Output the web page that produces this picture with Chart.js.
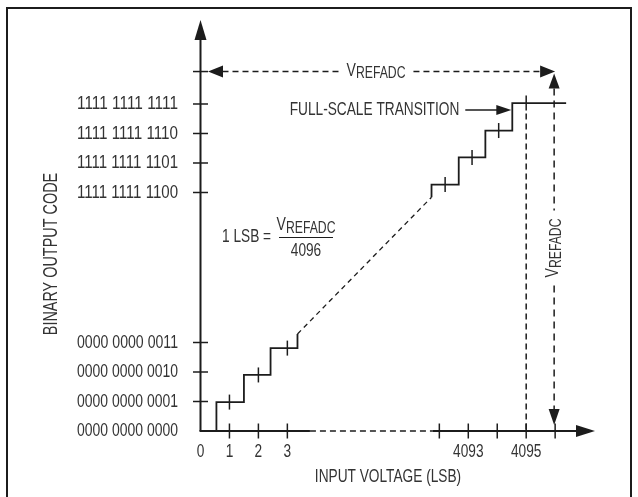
<!DOCTYPE html>
<html>
<head>
<meta charset="utf-8">
<script src="https://cdn.jsdelivr.net/npm/chart.js"></script>
<style>
  html, body { margin: 0; padding: 0; background: #fff; }
  canvas { display: block; }
</style>
</head>
<body>
<canvas id="transfer" width="638" height="497"></canvas>
<script>
// axis ticks
const inputTicks = [0, 1, 2, 3, 4092, 4093, 4094, 4095, 4096];
const inputTickLabels = ['0', '1', '2', '3', '', '4093', '', '4095', ''];
const outputCodes = [0, 1, 2, 3, 4092, 4093, 4094, 4095];
const outputCodeLabels = ['0000 0000 0000', '0000 0000 0001', '0000 0000 0010', '0000 0000 0011',
  '1111 1111 1100', '1111 1111 1101', '1111 1111 1110', '1111 1111 1111'];

// staircase corners (input in LSB, output code)
const lowStepIn = [0.55, 0.55, 1.5, 1.5, 2.42, 2.42, 3.35, 3.35];
const lowStepOut = [0, 0.98, 0.98, 1.9, 1.9, 2.81, 2.81, 3.29];
const highStepIn = [4091.73, 4091.73, 4092.67, 4092.67, 4093.59, 4093.59, 4094.52, 4094.52, 4096.38];
const highStepOut = [4091.84, 4092.27, 4092.27, 4093.19, 4093.19, 4094.1, 4094.1, 4095.03, 4095.03];

// little marks on the code centres
const stepMarkIn = [1, 2, 3, 4092.2, 4093.13, 4094.05, 4095];
const stepMarkOut = [0.98, 1.9, 2.81, 4092.27, 4093.19, 4094.1, 4095.03];

const fullScaleIn = 4095;
const fullScaleTop = 4094.68;
const vrefIn = 4096;
const vrefCode = 4096.1;

// broken axes: the upper codes are shifted down next to the lower ones
const X_GAP = 4083.75, Y_GAP = 4083.915;
const ux = v => v > 1000 ? v - X_GAP : v;
const uy = v => v > 1000 ? v - Y_GAP : v;
const pts = (xs, ys) => xs.map((v, i) => ({ x: ux(v), y: uy(ys[i]) }));

const INK = '#1c1c1c';
const TXT = '#333';
const FONT = '"Liberation Sans", Arial, sans-serif';
const SQ = 0.74; // narrow font look
const FS = 18.5;

// fit: optional width in px the string should take
function text(ctx, s, x, y, size, align, rot, fit) {
  ctx.save();
  ctx.translate(x, y);
  if (rot) ctx.rotate(rot);
  ctx.font = size + 'px ' + FONT;
  const k = fit ? fit / ctx.measureText(s).width : SQ;
  ctx.scale(k, 1);
  ctx.fillStyle = TXT;
  ctx.textAlign = align || 'center';
  ctx.textBaseline = 'middle';
  ctx.fillText(s, 0, 0);
  ctx.restore();
}

// "V" with REFADC subscript, centred on x,y; returns width
function vrefText(ctx, x, y, rot) {
  ctx.save();
  ctx.translate(x, y);
  if (rot) ctx.rotate(rot);
  ctx.scale(SQ, 1);
  ctx.fillStyle = TXT;
  ctx.textBaseline = 'middle';
  ctx.textAlign = 'left';
  ctx.font = '19px ' + FONT;
  const wV = ctx.measureText('V').width;
  ctx.font = '16.5px ' + FONT;
  const wS = ctx.measureText('REFADC').width;
  const start = -(wV + wS) / 2;
  ctx.font = '19px ' + FONT;
  ctx.fillText('V', start, -1);
  ctx.font = '16.5px ' + FONT;
  ctx.fillText('REFADC', start + wV, 2);
  ctx.restore();
  return (wV + wS) * SQ;
}

function line(ctx, x1, y1, x2, y2, w, dash) {
  ctx.save();
  ctx.strokeStyle = INK;
  ctx.lineWidth = w;
  ctx.setLineDash(dash || []);
  ctx.beginPath();
  ctx.moveTo(x1, y1);
  ctx.lineTo(x2, y2);
  ctx.stroke();
  ctx.restore();
}

// filled arrow head, tip at (x,y), pointing along angle a
function head(ctx, x, y, a, len, half) {
  ctx.save();
  ctx.translate(x, y);
  ctx.rotate(a);
  ctx.fillStyle = INK;
  ctx.beginPath();
  ctx.moveTo(0, 0);
  ctx.lineTo(-len, -half);
  ctx.lineTo(-len, half);
  ctx.closePath();
  ctx.fill();
  ctx.restore();
}

const drawing = {
  id: 'drawing',
  beforeDraw(chart) {
    const ctx = chart.ctx;
    ctx.save();
    ctx.fillStyle = '#fff';
    ctx.fillRect(0, 0, chart.width, chart.height);
    ctx.strokeStyle = INK;
    ctx.lineWidth = 2;
    ctx.strokeRect(7, 8, 624, 500);
    ctx.restore();
  },
  afterDatasetsDraw(chart) {
    const ctx = chart.ctx;
    const sx = chart.scales.x, sy = chart.scales.y;
    const px = v => sx.getPixelForValue(ux(v));
    const py = v => sy.getPixelForValue(uy(v));
    const x0 = px(0), y0 = py(0);

    // y axis with arrow
    const yTip = 20;
    line(ctx, x0, y0, x0, yTip + 18, 2);
    head(ctx, x0, yTip, -Math.PI / 2, 20, 6);
    // x axis: solid, broken (dashed), solid, arrow
    const xTip = 595;
    line(ctx, x0 - 1, y0, px(3.78), y0, 2);
    line(ctx, px(3.78), y0, px(4091.78), y0, 1.5, [6, 4]);
    line(ctx, px(4091.78), y0, xTip - 18, y0, 2);
    head(ctx, xTip, y0, 0, 19, 6);

    // ticks across the axes
    inputTicks.forEach((v, i) => {
      if (v > 0) line(ctx, px(v), y0 - 7.5, px(v), y0 + 7.5, 1.5);
      text(ctx, inputTickLabels[i], px(v), 452, FS);
    });
    outputCodes.forEach((c, i) => {
      if (c > 0) line(ctx, x0 - 7.5, py(c), x0 + 7.5, py(c), 1.5);
      text(ctx, outputCodeLabels[i], 178, py(c), FS, 'right', 0, 101);
    });
    line(ctx, x0 - 7.5, py(vrefCode), x0 + 7.5, py(vrefCode), 1.5);

    // full scale vertical dashed line
    line(ctx, px(fullScaleIn), py(fullScaleTop), px(fullScaleIn), y0, 1.5, [6, 4]);

    // VREFADC horizontal dimension
    const yv = py(vrefCode);
    const xr = px(vrefIn);
    head(ctx, x0 + 7.5, yv, Math.PI, 15, 6);
    head(ctx, xr, yv, 0, 15, 6);
    const tcx = 376;
    const tw = vrefText(ctx, tcx, yv);
    line(ctx, x0 + 22, yv, tcx - tw / 2 - 8, yv, 1.5, [6, 4]);
    line(ctx, tcx + tw / 2 + 8, yv, xr - 15, yv, 1.5, [6, 4]);

    // VREFADC vertical dimension
    const tcy = 248;
    const th = vrefText(ctx, xr - 1, tcy, -Math.PI / 2);
    head(ctx, xr - 1, yv + 2, -Math.PI / 2, 15, 5.5);
    head(ctx, xr - 1, y0 - 6, Math.PI / 2, 16, 5.5);
    line(ctx, xr - 1, yv + 17, xr - 1, tcy - th / 2 - 8, 1.5, [7, 5]);
    line(ctx, xr - 1, tcy + th / 2 + 8, xr - 1, y0 - 22, 1.5, [7, 5]);

    // full-scale transition callout
    const fy = 110, fx = px(4094.52) - 1;
    head(ctx, fx, fy, 0, 15, 5);
    line(ctx, fx - 46, fy, fx - 14, fy, 1.5);
    text(ctx, 'FULL-SCALE TRANSITION', fx - 52, fy, FS, 'right');

    // 1 LSB = VREFADC / 4096
    text(ctx, '1 LSB =', 222, 237, FS, 'left');
    line(ctx, 279, 237.5, 333, 237.5, 1.2);
    vrefText(ctx, 306, 226);
    text(ctx, '4096', 306, 251, FS);

    // axis titles
    text(ctx, 'INPUT VOLTAGE (LSB)', 388, 477, FS);
    text(ctx, 'BINARY OUTPUT CODE', 52, 254, 19.5, 'center', -Math.PI / 2);
  }
};

const lowSteps = pts(lowStepIn, lowStepOut);
const highSteps = pts(highStepIn, highStepOut);

new Chart(document.getElementById('transfer'), {
  type: 'scatter',
  data: {
    datasets: [
      {
        data: lowSteps,
        showLine: true,
        borderColor: INK,
        borderWidth: 1.8,
        pointRadius: 0
      },
      {
        data: highSteps,
        showLine: true,
        borderColor: INK,
        borderWidth: 1.8,
        pointRadius: 0
      },
      {
        // the codes in between
        data: [lowSteps[lowSteps.length - 1], highSteps[0]],
        showLine: true,
        borderColor: INK,
        borderWidth: 1.3,
        borderDash: [5, 4],
        pointRadius: 0
      },
      {
        data: pts(stepMarkIn, stepMarkOut),
        showLine: false,
        pointStyle: 'line',
        rotation: 90,
        pointRadius: 7.5,
        pointBorderColor: INK,
        pointBorderWidth: 1.5
      }
    ]
  },
  options: {
    responsive: false,
    animation: false,
    devicePixelRatio: 1,
    layout: { padding: 0, autoPadding: false },
    plugins: {
      legend: { display: false },
      tooltip: { enabled: false }
    },
    scales: {
      x: { type: 'linear', display: false, min: -200.5 / 28.95, max: (638 - 200.5) / 28.95 },
      y: { type: 'linear', display: false, min: -(497 - 431) / 29.5, max: 431 / 29.5 }
    }
  },
  plugins: [drawing]
});
</script>
</body>
</html>
